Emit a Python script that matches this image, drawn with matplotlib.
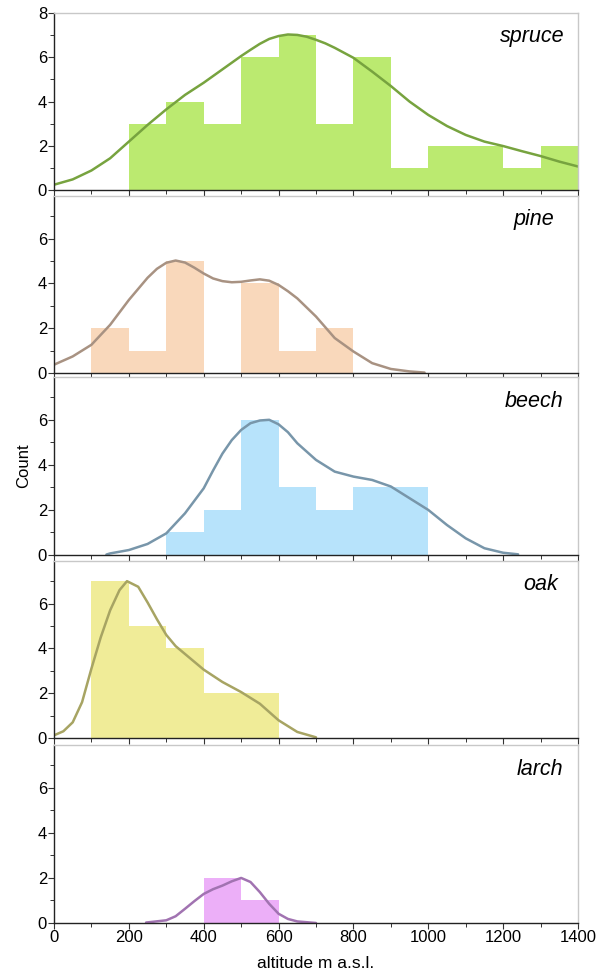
import matplotlib.pyplot as plt
from matplotlib.ticker import MultipleLocator

plt.rcParams['font.family'] = ['Liberation Sans', 'DejaVu Sans']

species = ['spruce', 'pine', 'beech', 'oak', 'larch']

# histogram bins (m a.s.l.) and counts
spruce_edges = [200, 300, 400, 500, 600, 700, 800, 900, 1000, 1100, 1200, 1300, 1400]
spruce_counts = [3, 4, 3, 6, 7, 3, 6, 1, 2, 2, 1, 2]
pine_edges = [100, 200, 300, 400, 500, 600, 700, 800]
pine_counts = [2, 1, 5, 0, 4, 1, 2]
beech_edges = [300, 400, 500, 600, 700, 800, 900, 1000]
beech_counts = [1, 2, 6, 3, 2, 3, 3]
oak_edges = [100, 200, 300, 400, 500, 600]
oak_counts = [7, 5, 4, 2, 2]
larch_edges = [400, 500, 600]
larch_counts = [2, 1]

# density curves
spruce_kx = [0, 50, 100, 150, 200, 250, 300, 350, 400, 450, 500, 525, 550, 575, 600, 625, 650,
             675, 700, 725, 750, 800, 850, 900, 950, 1000, 1050, 1100, 1150, 1200, 1250, 1300,
             1350, 1400]
spruce_ky = [0.26, 0.5, 0.9, 1.45, 2.2, 2.95, 3.65, 4.3, 4.85, 5.45, 6.05, 6.33, 6.6, 6.82, 6.95,
             7.02, 7.0, 6.92, 6.78, 6.62, 6.42, 5.97, 5.35, 4.7, 4.0, 3.4, 2.9, 2.5, 2.2, 2.0,
             1.77, 1.55, 1.3, 1.08]
pine_kx = [0, 50, 100, 150, 200, 250, 275, 300, 325, 350, 375, 400, 425, 450, 475, 500, 525,
           550, 575, 600, 625, 650, 700, 750, 800, 850, 900, 950, 990]
pine_ky = [0.37, 0.74, 1.26, 2.15, 3.26, 4.25, 4.65, 4.92, 5.02, 4.93, 4.7, 4.44, 4.22, 4.1,
           4.05, 4.07, 4.13, 4.18, 4.12, 3.93, 3.65, 3.33, 2.52, 1.56, 0.96, 0.44, 0.18, 0.07,
           0.02]
beech_kx = [140, 150, 200, 250, 300, 350, 400, 425, 450, 475, 500, 525, 550, 575, 600, 625,
            650, 700, 750, 800, 850, 900, 950, 1000, 1050, 1100, 1150, 1200, 1240]
beech_ky = [0.02, 0.07, 0.22, 0.49, 0.96, 1.85, 2.96, 3.75, 4.5, 5.1, 5.55, 5.85, 5.97, 6.0,
            5.8, 5.45, 4.96, 4.22, 3.7, 3.48, 3.33, 3.04, 2.52, 2.0, 1.33, 0.74, 0.3, 0.1, 0.03]
oak_kx = [0, 25, 50, 75, 100, 125, 150, 175, 195, 225, 250, 275, 300, 325, 350, 375, 400,
          450, 500, 550, 600, 650, 700]
oak_ky = [0.12, 0.3, 0.7, 1.6, 3.1, 4.5, 5.7, 6.6, 7.0, 6.75, 6.05, 5.3, 4.6, 4.1, 3.75,
          3.4, 3.05, 2.5, 2.05, 1.53, 0.79, 0.27, 0.03]
larch_kx = [246, 300, 325, 350, 375, 400, 425, 450, 475, 500, 525, 550, 575, 600, 625, 650,
            700]
larch_ky = [0.02, 0.12, 0.3, 0.63, 0.97, 1.29, 1.5, 1.66, 1.85, 2.0, 1.82, 1.37, 0.85, 0.41,
            0.18, 0.07, 0.0]

edges = [spruce_edges, pine_edges, beech_edges, oak_edges, larch_edges]
counts = [spruce_counts, pine_counts, beech_counts, oak_counts, larch_counts]
kde_x = [spruce_kx, pine_kx, beech_kx, oak_kx, larch_kx]
kde_y = [spruce_ky, pine_ky, beech_ky, oak_ky, larch_ky]

fills = ['#bbea70', '#f9d8bb', '#b7e3fb', '#f0ec98', '#ecaff8']
lines = ['#77a33f', '#a89282', '#7896aa', '#a7a463', '#a173b1']
label_x = [0.975, 0.955, 0.973, 0.961, 0.972]

fig = plt.figure(figsize=(6, 9.72), dpi=100)
W, H = 600, 972
tops = [12.7, 196, 377, 561, 745]
bottoms = [190.5, 373, 555, 738, 923]
axes = []
for i in range(5):
    ax = fig.add_axes([54 / W, 1 - bottoms[i] / H, 524 / W, (bottoms[i] - tops[i]) / H])
    axes.append(ax)
    ax.stairs(counts[i], edges[i], fill=True, color=fills[i], linewidth=0)
    ax.plot(kde_x[i], kde_y[i], color=lines[i], linewidth=1.8,
            solid_capstyle='round', solid_joinstyle='round')
    ax.set_xlim(0, 1400)
    if i == 0:
        ax.set_ylim(0, 8)
        ax.set_yticks([0, 2, 4, 6, 8])
    else:
        ax.set_ylim(0, 7.9)
        ax.set_yticks([0, 2, 4, 6])
    ax.yaxis.set_minor_locator(MultipleLocator(1))
    ax.xaxis.set_major_locator(MultipleLocator(200))
    ax.xaxis.set_minor_locator(MultipleLocator(100))
    ax.tick_params(axis='both', which='major', direction='out', length=4, width=0.8,
                   color='#333333', labelsize=12, pad=1)
    ax.tick_params(axis='both', which='minor', direction='out', length=3, width=0.7,
                   color='#333333')
    if i < 4:
        ax.tick_params(axis='x', labelbottom=False)
    for s in ['top', 'right']:
        ax.spines[s].set_color('#c8c8c8')
        ax.spines[s].set_linewidth(1.0)
    for s in ['left', 'bottom']:
        ax.spines[s].set_color('#222222')
        ax.spines[s].set_linewidth(1.0)
    ax.text(label_x[i], 0.865, species[i], transform=ax.transAxes, ha='right', va='center',
            fontsize=15.5, style='italic')

axes[2].set_ylabel('Count', fontsize=12, labelpad=5)
axes[4].set_xlabel('altitude m a.s.l.', fontsize=12.5, labelpad=8)

fig.savefig('out.png', dpi=100)
